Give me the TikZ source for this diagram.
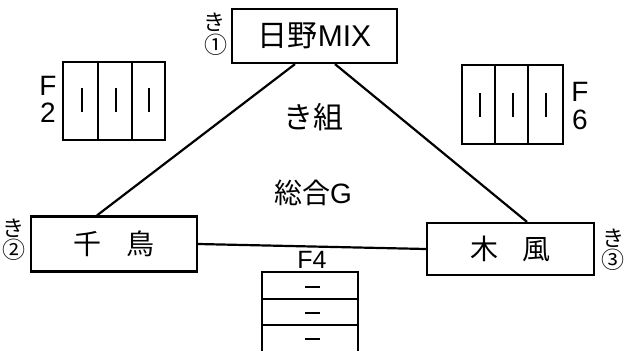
\documentclass[tikz,border=0pt]{standalone}
\usepackage{fontspec}
\setmainfont{Liberation Sans}
\newfontfamily\jp{Noto Sans CJK JP}
\begin{document}
\begin{tikzpicture}[x=1pt,y=-1pt,
  team/.style={draw,line width=2.2pt,rectangle,inner sep=0pt,fill=white},
  conn/.style={line width=2.2pt},
  grid/.style={line width=2.2pt},
  bar/.style={line width=2.2pt},
  small/.style={font=\jp\fontsize{22}{22}\selectfont,inner sep=0pt},
  circ/.style={font=\jp\fontsize{23}{23}\selectfont,inner sep=0pt},
  flab/.style={font=\fontsize{28}{28}\selectfont,inner sep=0pt}]
\useasboundingbox (0,0) rectangle (625,351);
\node[team,minimum width=165pt,minimum height=54pt] (hino) at (314.5,36) {\fontsize{30}{30}\selectfont{\jp 日野}MIX};
\node[team,minimum width=166pt,minimum height=55pt] (chidori) at (114,244) {\jp\fontsize{28}{28}\selectfont 千\hspace{0.9em}鳥};
\node[team,minimum width=167pt,minimum height=52pt] (kaze) at (510.5,249) {\jp\fontsize{28}{28}\selectfont 木\hspace{0.85em}風};
\draw[conn] ([xshift=-19.5pt]hino.south) -- ([xshift=-17pt]chidori.north);
\draw[conn] ([xshift=20.5pt]hino.south) -- ([xshift=16.5pt]kaze.north);
\draw[conn] (chidori.east) -- (kaze.west);
% labels
\node[small] (k1) at (214,22) {き};
\node[circ] (c1) at (216,45) {①};
\node[small] (k2) at (13,228) {き};
\node[circ] (c2) at (14,250) {②};
\node[small] (k3) at (613,238) {き};
\node[circ] (c3) at (613,260) {③};
\node[font=\jp\fontsize{30}{30}\selectfont,inner sep=0pt] (kumi) at (313,117) {き組};
\node[font=\fontsize{28}{28}\selectfont,inner sep=0pt] (sogo) at (313,193) {{\jp 総合}G};
% F2 grid
\draw[grid] (63,62) rectangle (165,140);
\draw[grid] (98,62) -- (98,140);
\draw[grid] (132,62) -- (132,140);
\foreach \x in {82,116,149} \draw[bar] (\x,88) -- (\x,112);
\node[flab] (f2a) at (48,86) {F};
\node[flab] (f2b) at (48,113) {2};
% F6 grid
\draw[grid] (462,65) rectangle (563,144);
\draw[grid] (495,65) -- (495,144);
\draw[grid] (528,65) -- (528,144);
\foreach \x in {480,513,546} \draw[bar] (\x,93) -- (\x,117);
\node[flab] (f6a) at (580,92) {F};
\node[flab] (f6b) at (580,120) {6};
% F4 grid
\draw[grid] (262,355) -- (262,272) -- (358,272) -- (358,355);
\draw[grid] (262,299) -- (358,299);
\draw[grid] (262,325) -- (358,325);
\foreach \y in {287,313,339} \draw[bar] (305,\y) -- (320,\y);
\node[font=\fontsize{25}{25}\selectfont,inner sep=0pt] (f4) at (312,260) {F4};
\end{tikzpicture}
\end{document}
